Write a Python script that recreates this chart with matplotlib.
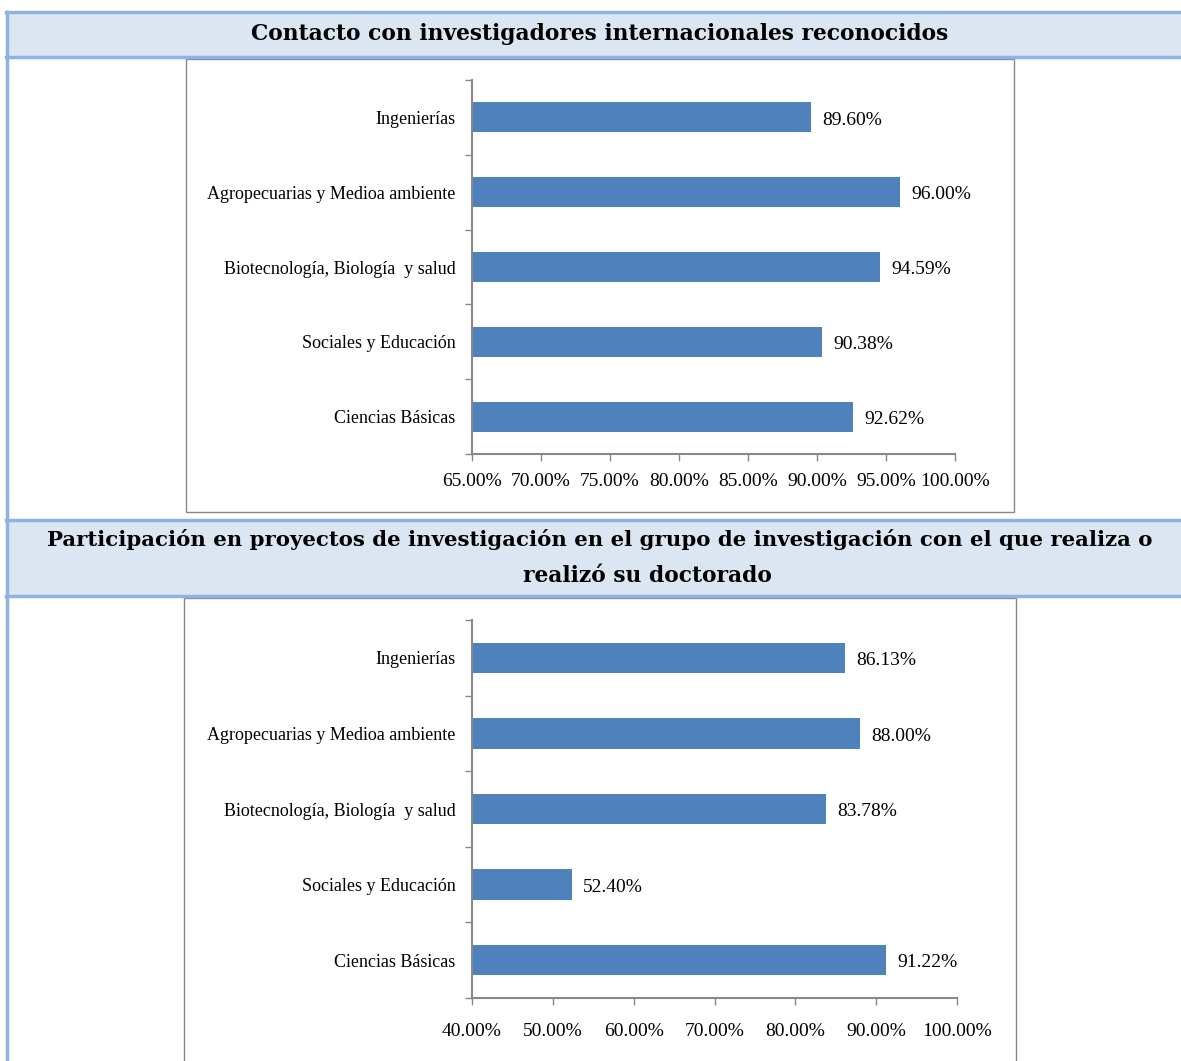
import matplotlib
matplotlib.use('Agg')
import matplotlib.pyplot as plt
from matplotlib.patches import Rectangle
from matplotlib.lines import Line2D
from matplotlib.ticker import FuncFormatter

W, H = 1181, 1061

categories = ['Ingenierías', 'Agropecuarias y Medioa ambiente',
              'Biotecnología, Biología  y salud', 'Sociales y Educación',
              'Ciencias Básicas']
contacto = [89.60, 96.00, 94.59, 90.38, 92.62]
participacion = [86.13, 88.00, 83.78, 52.40, 91.22]

title1 = 'Contacto con investigadores internacionales reconocidos'
title2_a = 'Participación en proyectos de investigación en el grupo de investigación con el que realiza o'
title2_b = 'realizó su doctorado'

BAR = '#4F81BD'
BAND = '#DCE6F2'
BORDER = '#8DB3E2'
GRAY = '#888888'
SERIF = ['Liberation Serif', 'DejaVu Serif']


def fx(x):
    return x / W


def fy(y):
    return 1 - y / H


fig = plt.figure(figsize=(W / 100, H / 100), dpi=100)

# header bands of the table
for top, bot in [(12, 57), (520, 596)]:
    fig.patches.append(Rectangle((fx(6), fy(bot)), fx(W) - fx(6), fy(top) - fy(bot),
                                 transform=fig.transFigure, facecolor=BAND,
                                 edgecolor='none', zorder=-2))
    for yy in (top, bot):
        fig.add_artist(Line2D([fx(6), 1], [fy(yy), fy(yy)], color=BORDER, lw=2.5,
                              transform=fig.transFigure))
fig.add_artist(Line2D([fx(6.5), fx(6.5)], [fy(12), 0], color=BORDER, lw=2.5,
                      transform=fig.transFigure))

fig.text(fx(600), fy(34), title1, ha='center', va='center', fontsize=15.7,
         fontweight='bold', family=['DejaVu Serif'])
fig.text(fx(600), fy(539), title2_a, ha='center', va='center', fontsize=15.3,
         fontweight='bold', family=['DejaVu Serif'])
fig.text(fx(647), fy(576), title2_b, ha='center', va='center', fontsize=15.7,
         fontweight='bold', family=['DejaVu Serif'])

# chart frames
for l, t, r, b in [(186, 59, 1014, 512), (184, 598, 1016, 1075)]:
    fig.patches.append(Rectangle((fx(l), fy(b)), fx(r) - fx(l), fy(t) - fy(b),
                                 transform=fig.transFigure, facecolor='white',
                                 edgecolor=GRAY, lw=1, zorder=-1))


def bar_chart(box, values, xmin, step, xlab_pad):
    l, t, r, b = box
    ax = fig.add_axes([fx(l), fy(b), fx(r) - fx(l), fy(t) - fy(b)])
    ax.patch.set_alpha(0)
    pos = list(range(len(categories)))
    ax.barh(pos, values, height=0.4, color=BAR, left=0)
    ax.set_xlim(xmin, 100)
    ax.set_ylim(len(categories) - 0.5, -0.5)
    ax.set_xticks(list(range(xmin, 101, step)))
    ax.xaxis.set_major_formatter(FuncFormatter(lambda v, p: '%.2f%%' % v))
    ax.set_yticks(pos)
    ax.set_yticklabels(categories, family=SERIF, fontsize=13)
    ax.set_yticks([p - 0.5 for p in pos] + [len(categories) - 0.5], minor=True)
    ax.tick_params(axis='y', which='major', length=0, pad=12)
    ax.tick_params(axis='y', which='minor', length=5, width=1, color=GRAY)
    ax.tick_params(axis='x', length=5, width=1, color=GRAY, pad=xlab_pad)
    for lab in ax.get_xticklabels():
        lab.set_family(SERIF)
        lab.set_fontsize(14)
    for s in ('top', 'right'):
        ax.spines[s].set_visible(False)
    for s in ('left', 'bottom'):
        ax.spines[s].set_color(GRAY)
        ax.spines[s].set_linewidth(1.5)
    for p, v in zip(pos, values):
        ax.annotate('%.2f%%' % v, (v, p), xytext=(8, -2), textcoords='offset points',
                    ha='left', va='center', family=SERIF, fontsize=14)
    return ax


bar_chart((472, 80, 955, 454), contacto, 65, 5, 9)
bar_chart((472, 620, 957, 998), participacion, 40, 10, 13)

fig.savefig('out.png', dpi=100)
